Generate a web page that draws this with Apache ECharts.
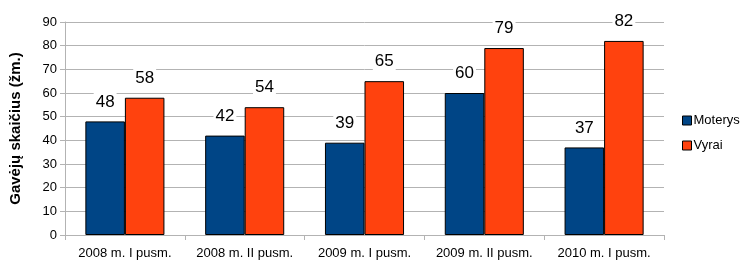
<html><head><meta charset="utf-8"><script src="https://cdn.jsdelivr.net/npm/echarts@6/dist/echarts.min.js"></script>
<style>html,body{margin:0;padding:0;background:#fff}</style></head><body><div id="main" style="width:744px;height:262px;"></div><script type="text/javascript">
var categories = ['2008 m. I pusm.', '2008 m. II pusm.', '2009 m. I pusm.', '2009 m. II pusm.', '2010 m. I pusm.'];
var moterys = [48, 42, 39, 60, 37];
var vyrai = [58, 54, 65, 79, 82];
var yTicks = [0, 90, 10];

var myChart = echarts.init(document.getElementById('main'));
var lbl = {
    show: true,
    position: 'top',
    distance: 10,
    color: '#000',
    fontSize: 17,
    fontFamily: 'Liberation Sans, Arial',
    backgroundColor: '#fff',
    padding: [1, 2]
};
option = {
    animation: false,
    textStyle: { fontFamily: 'Liberation Sans, Arial' },
    grid: { left: 64, right: 80, top: 22, bottom: 27 },
    legend: {
        orient: 'vertical',
        left: 677,
        top: 109,
        itemWidth: 9,
        itemHeight: 9,
        itemGap: 12,
        icon: 'rect',
        itemStyle: { borderColor: '#000', borderWidth: 1 },
        textStyle: { fontSize: 13, color: '#000', padding: [0, 0, 0, -3] },
        data: ['Moterys', 'Vyrai']
    },
    xAxis: {
        type: 'category',
        data: categories,
        axisLine: { lineStyle: { color: '#b3b3b3' } },
        axisTick: { show: true, length: 5, lineStyle: { color: '#b3b3b3' } },
        axisLabel: { color: '#000', fontSize: 13, margin: 12, interval: 0, hideOverlap: false }
    },
    yAxis: {
        type: 'value',
        min: yTicks[0],
        max: yTicks[1],
        interval: yTicks[2],
        name: 'Gavėjų skaičius (žm.)',
        nameLocation: 'middle',
        nameGap: 42,
        nameTextStyle: { fontSize: 15, fontWeight: 'bold', color: '#000' },
        axisLine: { show: true, lineStyle: { color: '#b3b3b3' } },
        axisTick: { show: true, length: 5, lineStyle: { color: '#b3b3b3' } },
        axisLabel: { color: '#000', fontSize: 13, margin: 8 },
        splitLine: { lineStyle: { color: '#b3b3b3' } }
    },
    series: [
        {
            name: 'Moterys', type: 'bar', data: moterys,
            barGap: '0%', barCategoryGap: '34%',
            itemStyle: { color: '#004586', borderColor: '#000', borderWidth: 1 },
            label: lbl
        },
        {
            name: 'Vyrai', type: 'bar', data: vyrai,
            itemStyle: { color: '#ff420e', borderColor: '#000', borderWidth: 1 },
            label: lbl
        }
    ]
};
myChart.setOption(option);
</script></body></html>
